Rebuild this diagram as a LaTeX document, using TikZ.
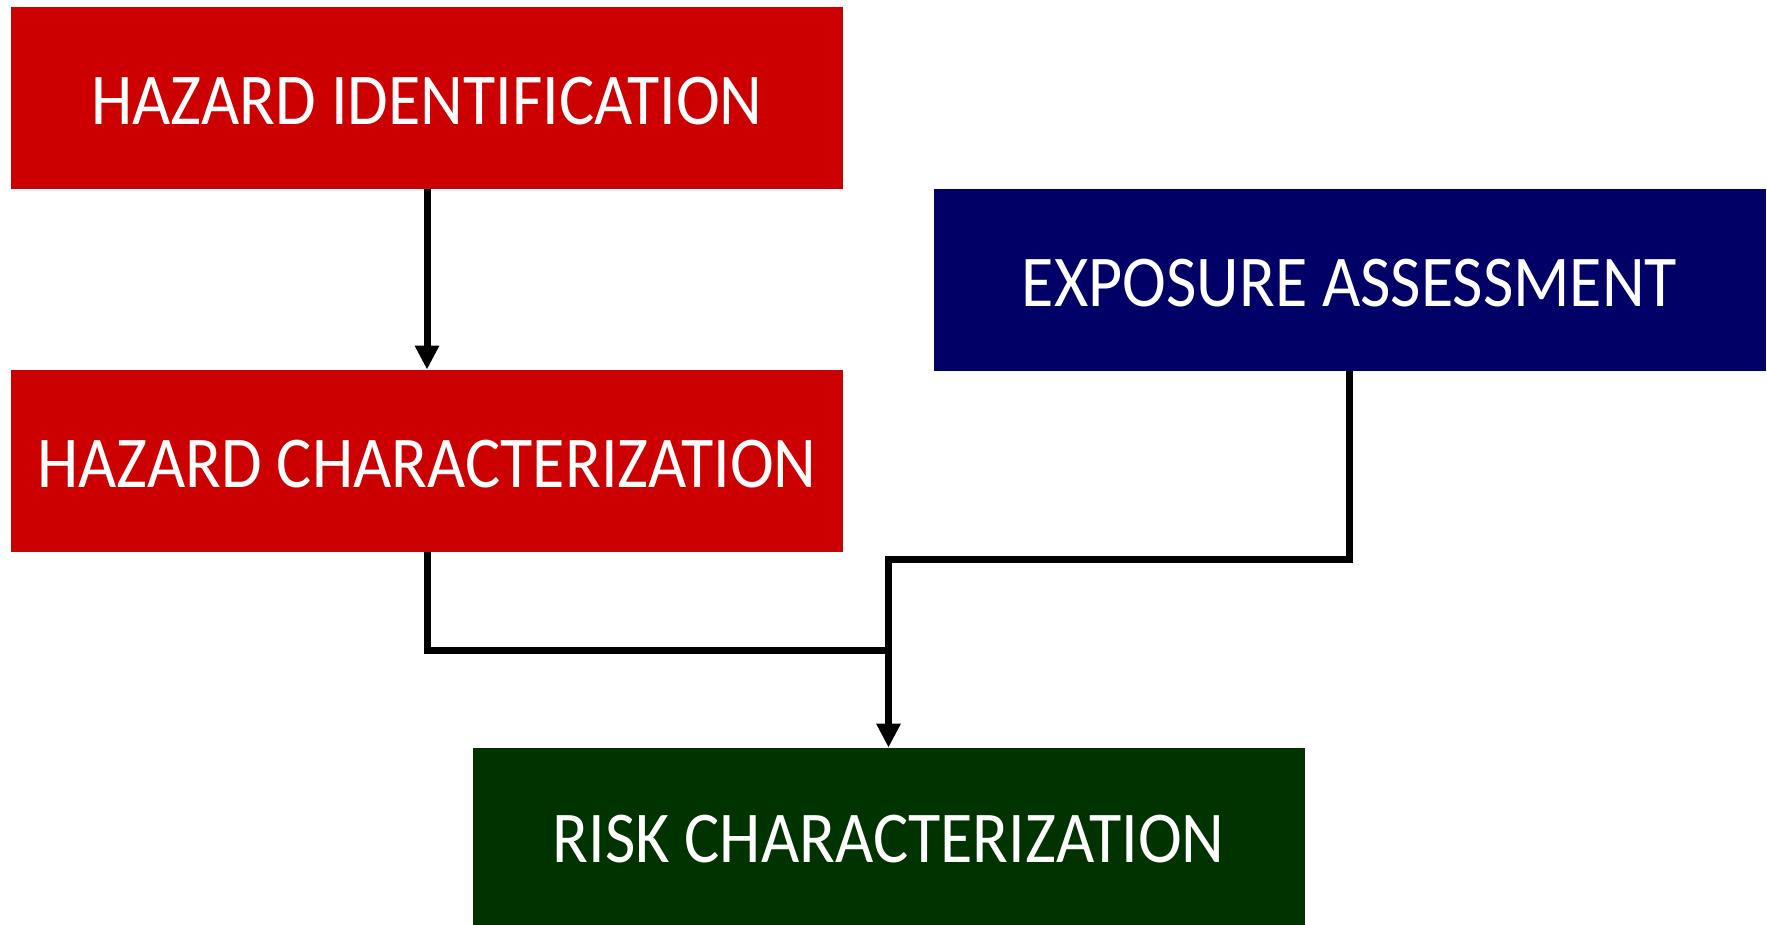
\documentclass[tikz,border=0pt]{standalone}
\usepackage{fontspec}
\setmainfont{Carlito}[FakeStretch=0.905]
\usetikzlibrary{arrows.meta}
\definecolor{hazred}{HTML}{CC0000}
\definecolor{expblue}{HTML}{000066}
\definecolor{riskgreen}{HTML}{003300}
\tikzset{
  box/.style={rectangle, inner sep=0pt, minimum width=416pt, minimum height=91pt,
    text height=26.3pt, text depth=0pt,
    text=white, font=\fontsize{36.5}{40}\selectfont},
  conn/.style={line width=3.5pt, draw=black},
  arr/.style={conn, -{Triangle[length=12pt,width=11.5pt]}}
}
\begin{document}
\begin{tikzpicture}[x=0.5pt,y=-0.5pt]
\useasboundingbox (0,0) rectangle (1767,925);
\node[box, fill=hazred] (hi) at (427,98) {HAZARD IDENTIFICATION};
\node[box, fill=expblue] (ea) at (1349.5,280) {EXPOSURE ASSESSMENT};
\node[box, fill=hazred] (hc) at (427,461) {HAZARD CHARACTERIZATION};
\node[box, fill=riskgreen, minimum height=88.5pt] (rc) at (888.5,836.5) {RISK CHARACTERIZATION};
\coordinate (bend) at (888.5,559);
\coordinate (merge) at (888.5,650);
\draw[arr] (hi.south) -- (hc.north);
\draw[conn] (hc.south) |- (merge);
\draw[arr] (ea.south) |- (bend) -- (rc.north);
\end{tikzpicture}
\end{document}
